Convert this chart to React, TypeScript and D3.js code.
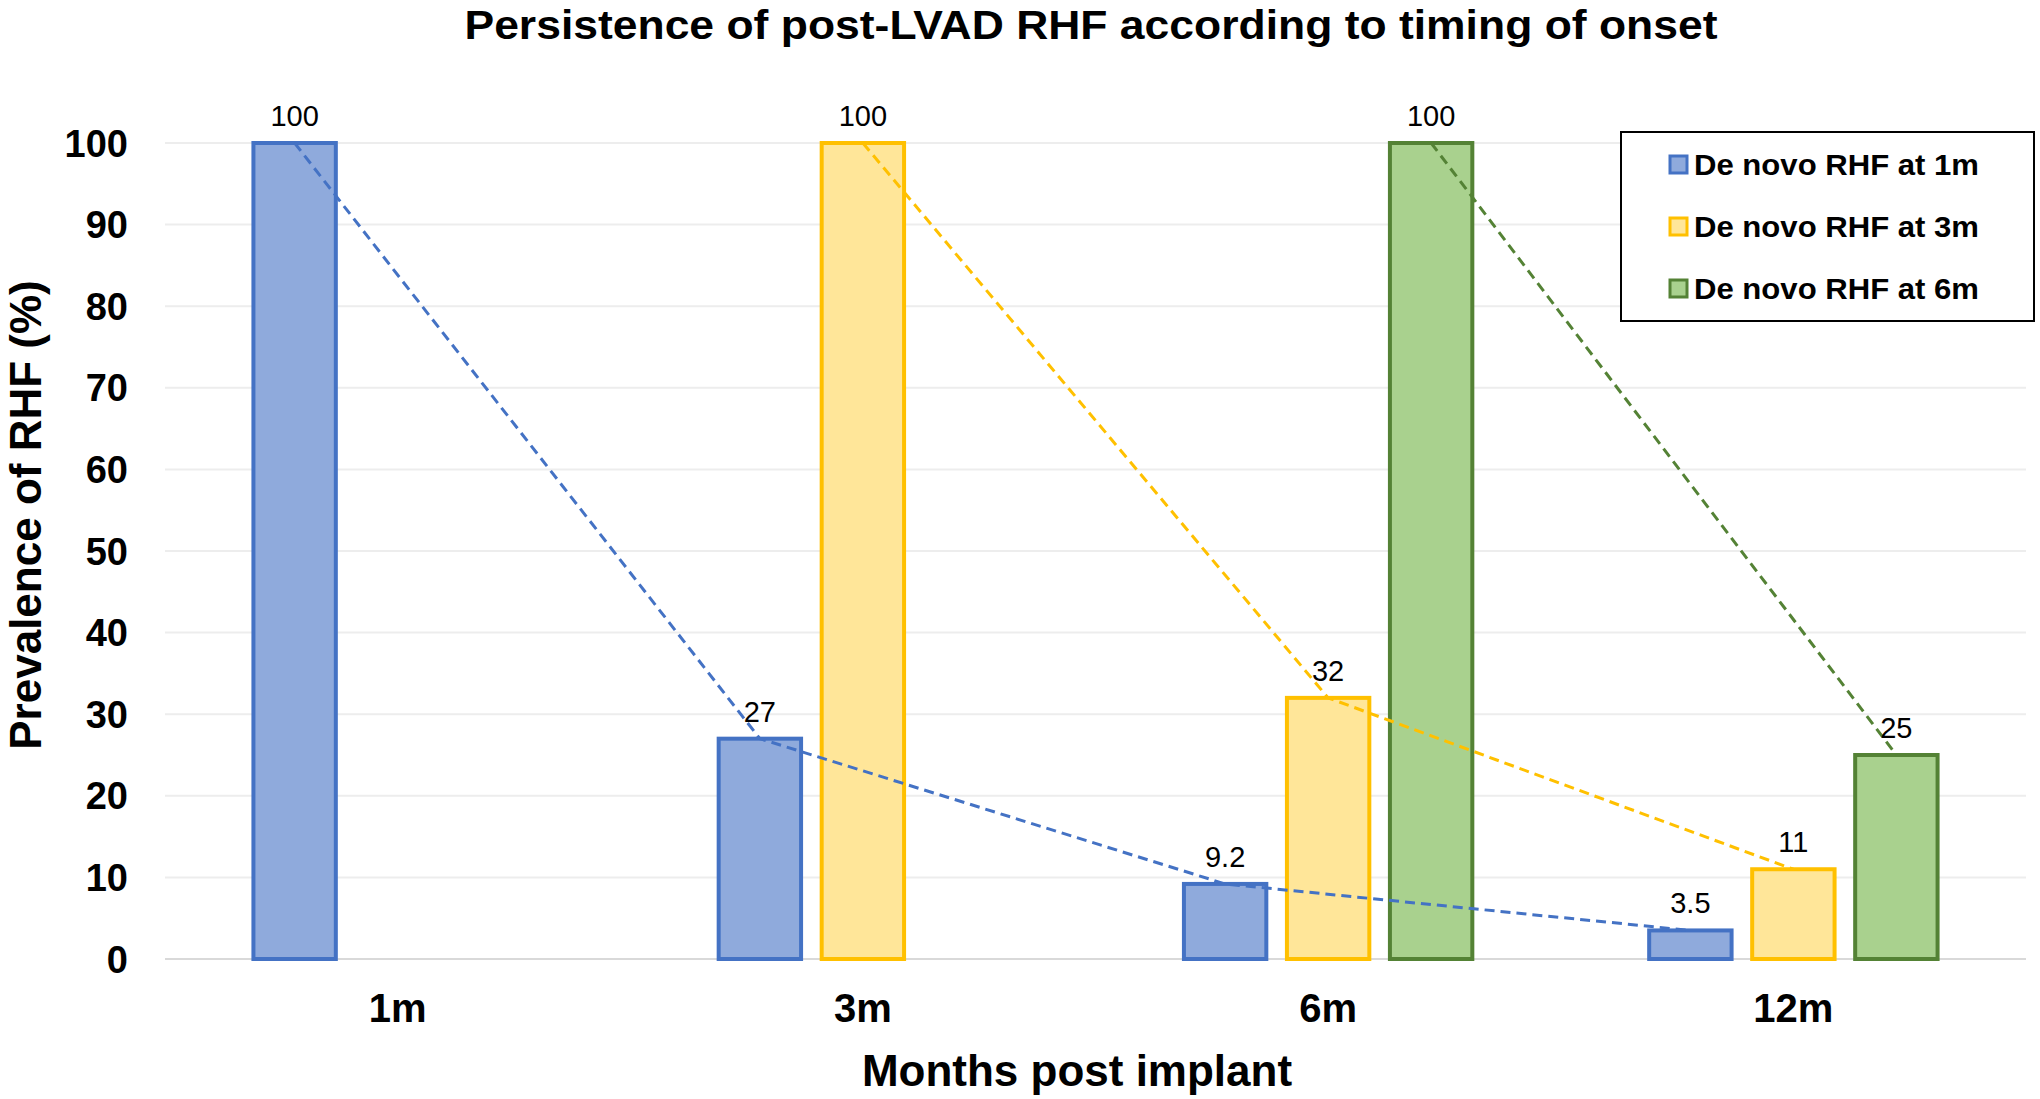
import React from "react";
import * as d3 from "d3";

const categories = ["1m", "3m", "6m", "12m"];
const seriesNames = ["De novo RHF at 1m", "De novo RHF at 3m", "De novo RHF at 6m"];
const rhfAt1m: (number | null)[] = [100, 27, 9.2, 3.5];
const rhfAt3m: (number | null)[] = [null, 100, 32, 11];
const rhfAt6m: (number | null)[] = [null, null, 100, 25];
const yTicks = [0, 10, 20, 30, 40, 50, 60, 70, 80, 90, 100];
const fills = ["#8FAADC", "#FFE699", "#A9D18E"];
const strokes = ["#4472C4", "#FFC000", "#548235"];

const seriesValues = [rhfAt1m, rhfAt3m, rhfAt6m];

const W = 2040;
const H = 1099;
const FONT = "'Liberation Sans', Arial, sans-serif";

export default function App() {
  const x0 = d3.scaleBand<string>().domain(categories).range([165, 2026]).padding(0);
  const x1 = d3
    .scaleBand<string>()
    .domain(seriesNames)
    .range([-154.5, 154.5])
    .paddingInner(0.2)
    .paddingOuter(0.1);
  const y = d3.scaleLinear().domain([0, 100]).range([959, 143]);

  const cx = (ci: number, si: number) =>
    (x0(categories[ci]) as number) + x0.bandwidth() / 2 + (x1(seriesNames[si]) as number) + x1.bandwidth() / 2;

  const lineGen = d3
    .line<{ x: number; y: number }>()
    .x((d) => d.x)
    .y((d) => d.y);

  return (
    <svg
      width={W}
      height={H}
      style={{ position: "absolute", left: 0, top: 0, display: "block", background: "#fff" }}
      fontFamily={FONT}
    >
      <rect x={0} y={0} width={W} height={H} fill="#fff" />
      {/* Title */}
      <text
        x={1091}
        y={39}
        textAnchor="middle"
        fontSize={41}
        fontWeight="bold"
        textLength={1253}
        lengthAdjust="spacingAndGlyphs"
        fill="#000"
      >
        Persistence of post-LVAD RHF according to timing of onset
      </text>

      {/* gridlines */}
      {yTicks.map((t) => (
        <line
          key={"g" + t}
          x1={165}
          x2={2026}
          y1={y(t)}
          y2={y(t)}
          stroke={t === 0 ? "#D9D9D9" : "#EDEDED"}
          strokeWidth={2}
        />
      ))}

      {/* y tick labels */}
      {yTicks.map((t) => (
        <text
          key={"yt" + t}
          x={128}
          y={y(t)}
          dy="0.36em"
          textAnchor="end"
          fontSize={38}
          fontWeight="bold"
          fill="#000"
        >
          {t}
        </text>
      ))}

      {/* bars */}
      {seriesValues.map((vals, si) =>
        vals.map((v, ci) =>
          v == null ? null : (
            <rect
              key={`b${si}-${ci}`}
              x={cx(ci, si) - x1.bandwidth() / 2}
              y={y(v)}
              width={x1.bandwidth()}
              height={y(0) - y(v)}
              fill={fills[si]}
              stroke={strokes[si]}
              strokeWidth={4}
            />
          )
        )
      )}

      {/* dashed trend lines */}
      {seriesValues.map((vals, si) => {
        const pts = vals
          .map((v, ci) => (v == null ? null : { x: cx(ci, si), y: y(v) }))
          .filter((p): p is { x: number; y: number } => p != null);
        return (
          <path
            key={"l" + si}
            d={lineGen(pts) || ""}
            fill="none"
            stroke={strokes[si]}
            strokeWidth={3}
            strokeDasharray="10,6"
          />
        );
      })}

      {/* data labels */}
      {seriesValues.map((vals, si) =>
        vals.map((v, ci) =>
          v == null ? null : (
            <text
              key={`dl${si}-${ci}`}
              x={cx(ci, si)}
              y={y(v) - 17}
              textAnchor="middle"
              fontSize={29}
              fill="#000"
            >
              {String(v)}
            </text>
          )
        )
      )}

      {/* x tick labels */}
      {categories.map((c) => (
        <text
          key={"xt" + c}
          x={(x0(c) as number) + x0.bandwidth() / 2}
          y={1022}
          textAnchor="middle"
          fontSize={40}
          fontWeight="bold"
          fill="#000"
        >
          {c}
        </text>
      ))}

      {/* axis titles */}
      <text x={1077} y={1086} textAnchor="middle" fontSize={44} fontWeight="bold" fill="#000">
        Months post implant
      </text>
      <text
        transform="translate(41,515) rotate(-90)"
        textAnchor="middle"
        fontSize={44}
        fontWeight="bold"
        fill="#000"
      >
        Prevalence of RHF (%)
      </text>

      {/* legend */}
      <rect x={1621} y={132} width={413} height={189} fill="#fff" stroke="#000" strokeWidth={2} />
      {seriesNames.map((s, i) => {
        const ry = 165 + i * 62;
        return (
          <g key={"lg" + i}>
            <rect x={1670} y={ry - 9} width={17} height={17} fill={fills[i]} stroke={strokes[i]} strokeWidth={3} />
            <text
              x={1694}
              y={ry + 10}
              fontSize={29}
              fontWeight="bold"
              textLength={285}
              lengthAdjust="spacingAndGlyphs"
              fill="#000"
            >
              {s}
            </text>
          </g>
        );
      })}
    </svg>
  );
}
